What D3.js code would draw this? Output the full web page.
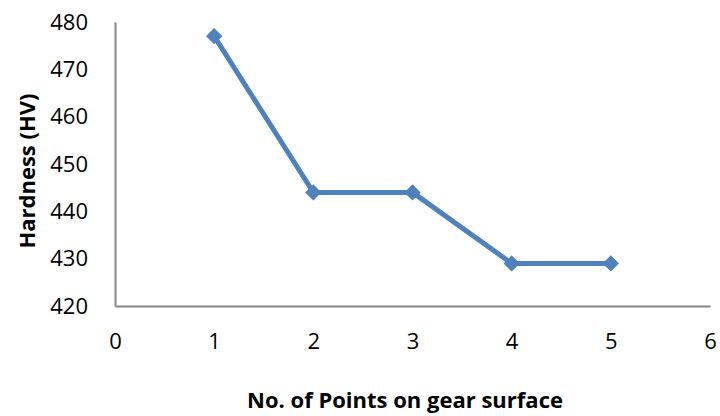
<!DOCTYPE html>
<html>
<head>
<meta charset="utf-8">
<script src="https://cdn.jsdelivr.net/npm/d3@7"></script>
<style>
  body { margin: 0; background: #fff; }
  text { font-family: "Open Sans", "Noto Sans", sans-serif; fill: #000; }
</style>
</head>
<body>
<div id="chart"></div>
<script>
const points = [1, 2, 3, 4, 5];
const hardness = [477, 444, 444, 429, 429];
const xTicks = [0, 1, 2, 3, 4, 5, 6];
const yTicks = [420, 430, 440, 450, 460, 470, 480];

const width = 720, height = 416;
const margin = { top: 22, right: 10, bottom: 110, left: 115 };
const innerW = 710 - margin.left;
const innerH = 306 - margin.top;

const svg = d3.select('#chart')
  .append('svg')
  .attr('width', width)
  .attr('height', height)
  .append('g')
  .attr('transform', `translate(${margin.left}, ${margin.top})`);

const scaleX = d3.scaleLinear()
  .domain([0, 6])
  .range([0, innerW]);

const scaleY = d3.scaleLinear()
  .domain([420, 480])
  .range([innerH, 0]);

// y axis
svg.append('g')
  .call(d3.axisLeft(scaleY).tickValues(yTicks).tickFormat(d3.format('d')).tickSize(0).tickPadding(27))
  .call(g => g.select('.domain').attr('stroke', '#868686').attr('stroke-width', 2))
  .call(g => g.selectAll('text').attr('text-anchor', 'end').style('font-size', '22px'));

// x axis
svg.append('g')
  .attr('transform', `translate(0, ${innerH})`)
  .call(d3.axisBottom(scaleX).tickValues(xTicks).tickFormat(d3.format('d')).tickSize(0).tickPadding(27))
  .call(g => g.select('.domain').attr('stroke', '#868686').attr('stroke-width', 2))
  .call(g => g.selectAll('text').attr('text-anchor', 'middle').style('font-size', '22px'));

const line = d3.line()
  .x((d, i) => scaleX(points[i]))
  .y(d => scaleY(d));

svg.append('path')
  .datum(hardness)
  .attr('fill', 'none')
  .attr('stroke', '#4F81BD')
  .attr('stroke-width', 5)
  .attr('stroke-linejoin', 'round')
  .attr('d', line);

svg.selectAll('.marker')
  .data(hardness)
  .enter()
  .append('path')
  .attr('class', 'marker')
  .attr('d', d3.symbol().type(d3.symbolDiamond2).size(170))
  .attr('fill', '#4F81BD')
  .attr('transform', (d, i) => `translate(${scaleX(points[i])}, ${scaleY(d)})`);

// axis titles
svg.append('text')
  .attr('x', 405 - margin.left)
  .attr('y', 408 - margin.top)
  .attr('text-anchor', 'middle')
  .style('font-size', '22px')
  .style('font-weight', 'bold')
  .text('No. of Points on gear surface');

svg.append('text')
  .attr('transform', `translate(${27 - margin.left}, ${171 - margin.top}) rotate(-90)`)
  .attr('text-anchor', 'middle')
  .attr('dy', '0.35em')
  .style('font-size', '22px')
  .style('font-weight', 'bold')
  .text('Hardness (HV)');
</script>
</body>
</html>
